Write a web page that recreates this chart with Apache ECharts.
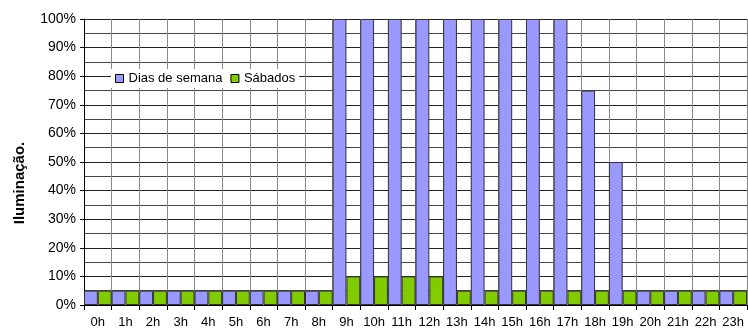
<!DOCTYPE html>
<html>
<head>
<meta charset="utf-8">
<script src="https://cdn.jsdelivr.net/npm/echarts@6/dist/echarts.min.js"></script>
<style>
  html, body { margin: 0; padding: 0; background: #fff; }
  #chart { width: 748px; height: 332px; }
</style>
</head>
<body>
<div id="chart"></div>
<script>
var hours = ['0h','1h','2h','3h','4h','5h','6h','7h','8h','9h','10h','11h','12h','13h','14h','15h','16h','17h','18h','19h','20h','21h','22h','23h'];
var diasSemana = [5,5,5,5,5,5,5,5,5,100,100,100,100,100,100,100,100,100,75,50,5,5,5,5];
var sabados = [5,5,5,5,5,5,5,5,5,10,10,10,10,5,5,5,5,5,5,5,5,5,5,5];

var myChart = echarts.init(document.getElementById('chart'));
var font = 'Liberation Sans, Arial, sans-serif';
var option = {
  animation: false,
  textStyle: { fontFamily: font },
  grid: { left: 84, right: 1, top: 19, bottom: 27 },
  legend: {
    left: 111,
    top: 69,
    itemWidth: 8,
    itemHeight: 8,
    itemGap: 8,
    backgroundColor: '#fff',
    padding: [3, 4],
    textStyle: { fontSize: 13, color: '#000', fontFamily: font },
    data: [
      { name: 'Dias de semana', icon: 'rect', itemStyle: { borderColor: '#000', borderWidth: 1 } },
      { name: 'Sábados', icon: 'rect', itemStyle: { borderColor: '#000', borderWidth: 1 } }
    ]
  },
  xAxis: {
    type: 'category',
    data: hours,
    axisLine: { lineStyle: { color: '#000', width: 1 } },
    axisTick: { show: true, length: 5, lineStyle: { color: '#000' } },
    axisLabel: { color: '#000', fontSize: 13, margin: 11, interval: 0 },
    splitLine: { show: true, interval: 0, lineStyle: { color: '#888', width: 1 } }
  },
  yAxis: {
    type: 'value',
    min: 0,
    max: 100,
    interval: 10,
    name: 'Iluminação.',
    nameLocation: 'middle',
    nameGap: 57,
    nameMoveOverlap: false,
    nameTextStyle: { fontSize: 15, fontWeight: 'bold', color: '#000', padding: [0, 42, 0, 0] },
    axisLine: { show: true, lineStyle: { color: '#000' } },
    axisTick: { show: true, length: 4, lineStyle: { color: '#000' } },
    axisLabel: { color: '#000', fontSize: 14, formatter: '{value}%', margin: 8 },
    splitLine: { show: true, lineStyle: { color: '#222', width: 1 } },
    minorTick: { show: false, splitNumber: 2 },
    minorSplitLine: { show: true, lineStyle: { color: '#444', width: 1 } }
  },
  series: [
    {
      name: 'Dias de semana',
      type: 'bar',
      data: diasSemana,
      barGap: '0%',
      barCategoryGap: '0%',
      itemStyle: { color: '#9999FF', borderColor: '#333', borderWidth: 1 }
    },
    {
      name: 'Sábados',
      type: 'bar',
      data: sabados,
      itemStyle: { color: '#80CC00', borderColor: '#333', borderWidth: 1 }
    }
  ]
};
myChart.setOption(option);
window.addEventListener('resize', function () {
  myChart.resize();
});
</script>
</body>
</html>
